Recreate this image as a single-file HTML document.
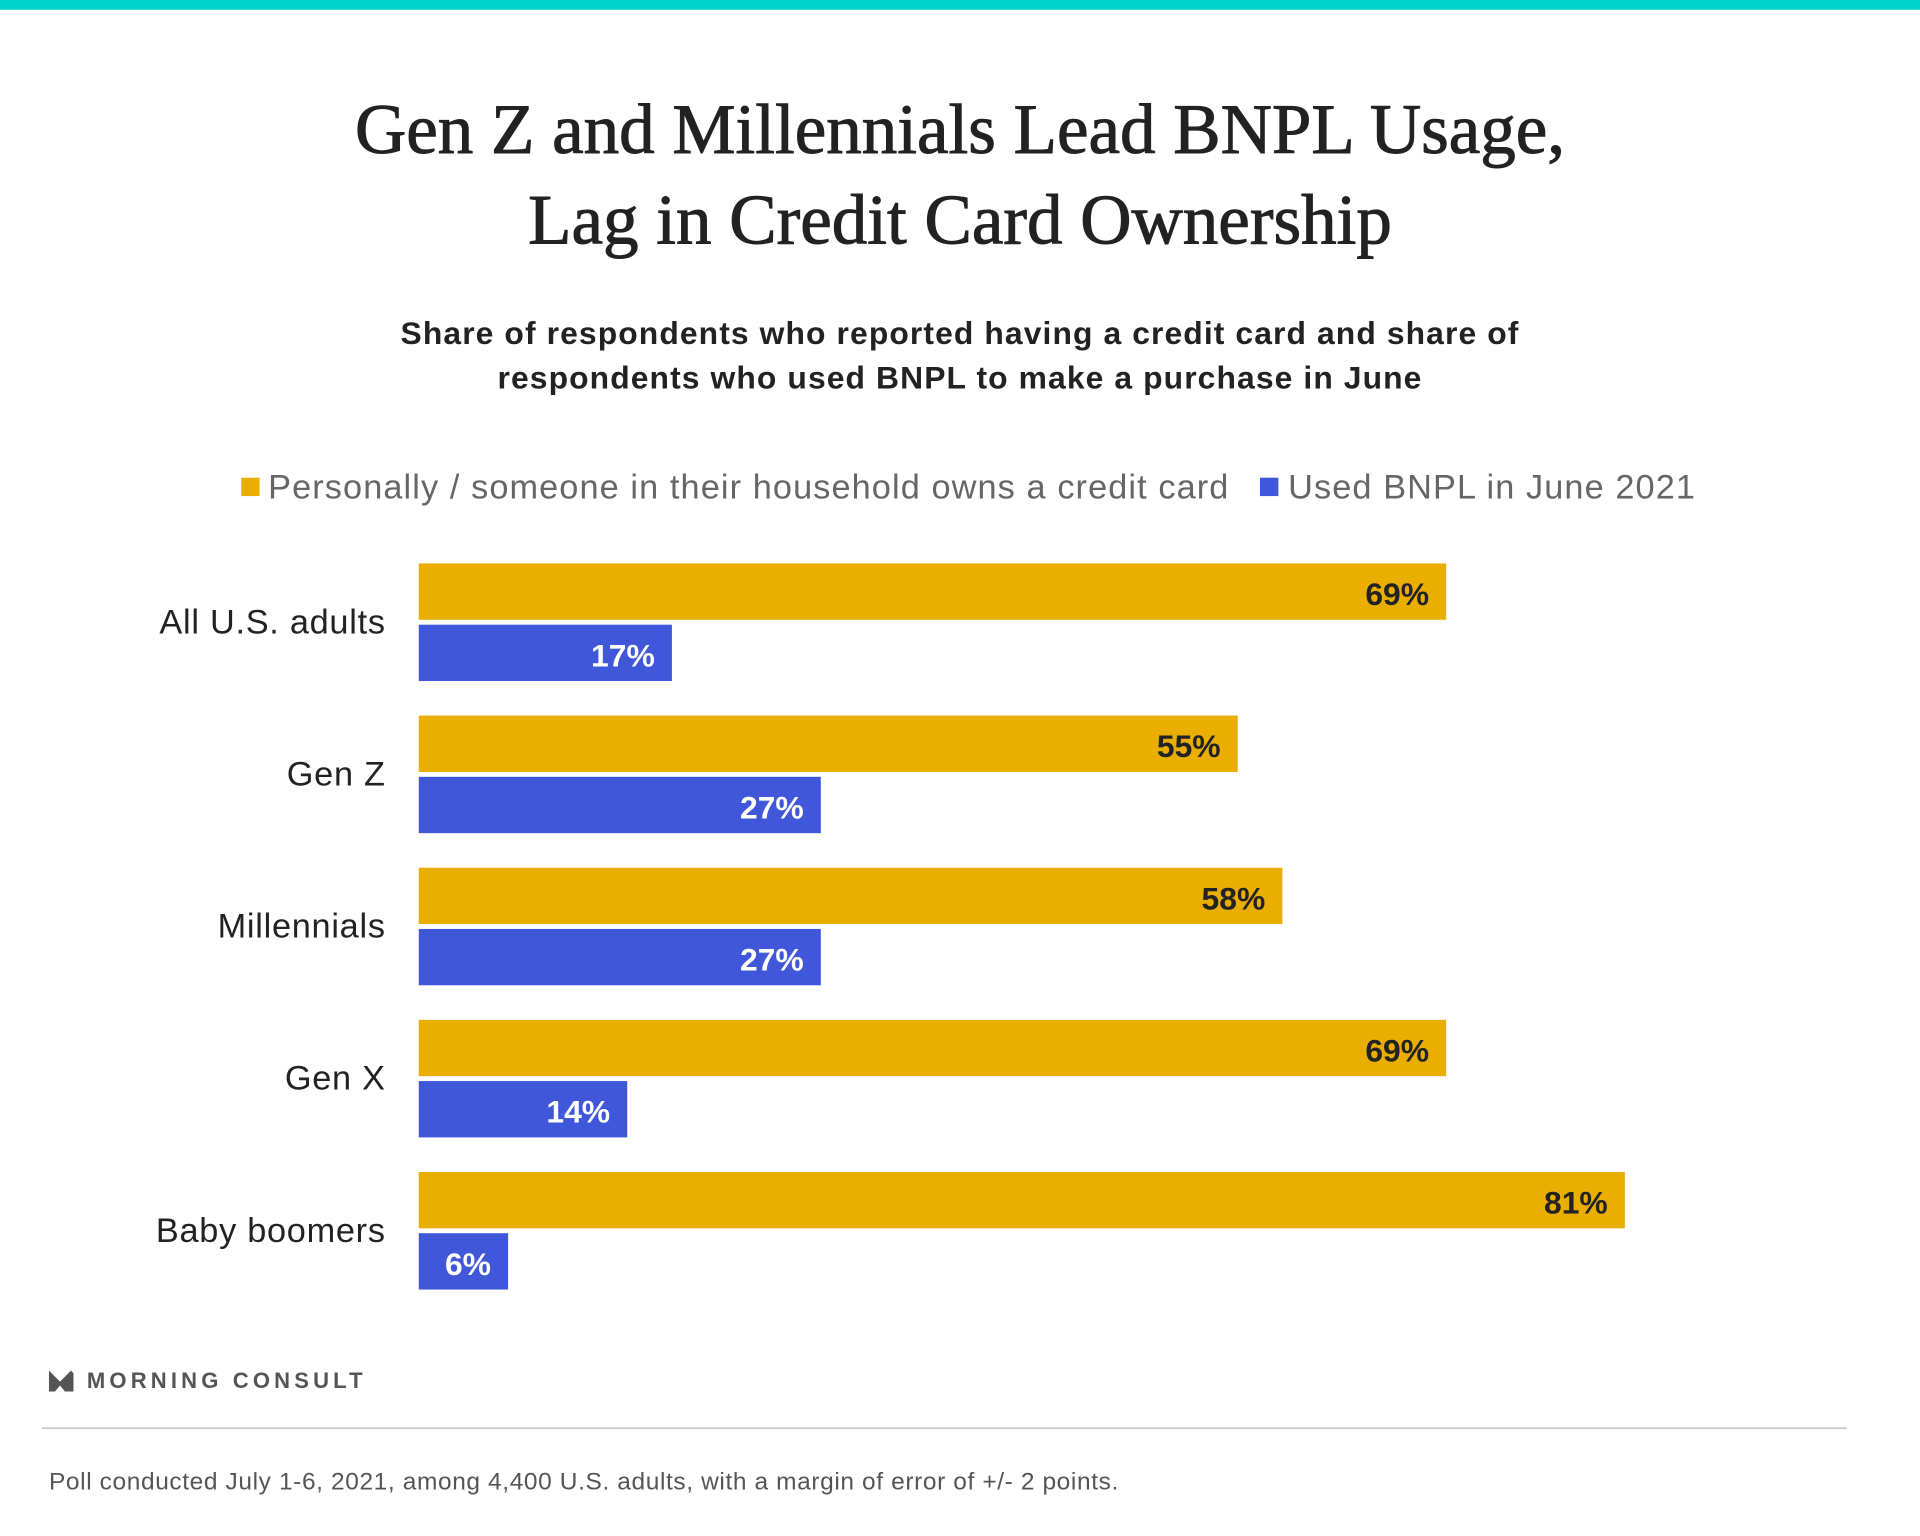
<!DOCTYPE html>
<html><head><meta charset="utf-8"><style>
html,body{margin:0;padding:0;background:#fff;}
svg{display:block;}
</style></head><body>
<svg id="chart" width="1920" height="1536" viewBox="0 0 1568 1254" preserveAspectRatio="none" xmlns="http://www.w3.org/2000/svg">
<rect x="0" y="0" width="1568" height="8" fill="#00d3c9"/>
<g font-family="'Liberation Serif', serif" font-size="58" fill="#222" text-anchor="middle" stroke="#222" stroke-width="0.8">
<text x="784" y="125">Gen Z and Millennials Lead BNPL Usage,</text>
<text x="784" y="199">Lag in Credit Card Ownership</text>
</g>
<g font-family="'Liberation Sans', sans-serif" font-size="26" font-weight="bold" fill="#222" text-anchor="middle" letter-spacing="0.9">
<text x="784" y="281">Share of respondents who reported having a credit card and share of</text>
<text x="784" y="317">respondents who used BNPL to make a purchase in June</text>
</g>
<g font-family="'Liberation Sans', sans-serif" font-size="28" fill="#666" letter-spacing="0.9">
<rect x="197" y="390" width="15" height="15" fill="#e9ae00"/>
<text x="219" y="407">Personally / someone in their household owns a credit card</text>
<rect x="1029" y="390" width="15" height="15" fill="#3f57d8"/>
<text x="1052" y="407">Used BNPL in June 2021</text>
</g>
<g id="bars"></g>
<g>
<path d="M40 1119 L49 1128 L58 1119 L60 1121 L60 1136 L53 1136 L49 1131 L45 1136 L40 1136 Z" fill="#555"/>
<text x="71" y="1133" font-family="'Liberation Sans', sans-serif" font-size="18" font-weight="bold" letter-spacing="3.4" fill="#555">MORNING CONSULT</text>
</g>
<line x1="34" y1="1166" x2="1508" y2="1166" stroke="#ccc" stroke-width="1.5"/>
<text x="40" y="1216" font-family="'Liberation Sans', sans-serif" font-size="20" letter-spacing="0.5" fill="#555">Poll conducted July 1-6, 2021, among 4,400 U.S. adults, with a margin of error of +/- 2 points.</text>
</svg>
<script>
const categories = ["All U.S. adults", "Gen Z", "Millennials", "Gen X", "Baby boomers"];
const creditCard = [69, 55, 58, 69, 81];
const bnpl = [17, 27, 27, 14, 6];
const NS = "http://www.w3.org/2000/svg";
const x0 = 342, pxPer = 12.16;
const xScale = v => x0 + v * pxPer;
const groupY = i => 460 + i * 124.2;
const g = document.getElementById("bars");
function mk(tag, attrs) { const e = document.createElementNS(NS, tag); for (const k in attrs) e.setAttribute(k, attrs[k]); return e; }
categories.forEach((c, i) => {
  const y = groupY(i);
  const lab = mk("text", {x: 315, y: y + 57, "text-anchor": "end", "font-family": "'Liberation Sans', sans-serif", "font-size": 28, "letter-spacing": 0.6, fill: "#222"});
  
  
  lab.textContent = c; g.appendChild(lab);
  [[creditCard[i], "#e9ae00", "#222", 0, "bar-credit-card"], [bnpl[i], "#3f57d8", "#fff", 50, "bar-bnpl"]].forEach(([v, col, tc, dy, nm]) => {
    const r = mk("rect", {x: x0, y: y + dy, width: xScale(v) - x0, height: 46, fill: col});
    
    
    g.appendChild(r);
    const t = mk("text", {x: xScale(v) - 14, y: y + dy + 34, "text-anchor": "end", "font-family": "'Liberation Sans', sans-serif", "font-size": 26, "font-weight": "bold", fill: tc});
    
    
    t.textContent = v + "%"; g.appendChild(t);
  });
});
</script>
</body></html>
